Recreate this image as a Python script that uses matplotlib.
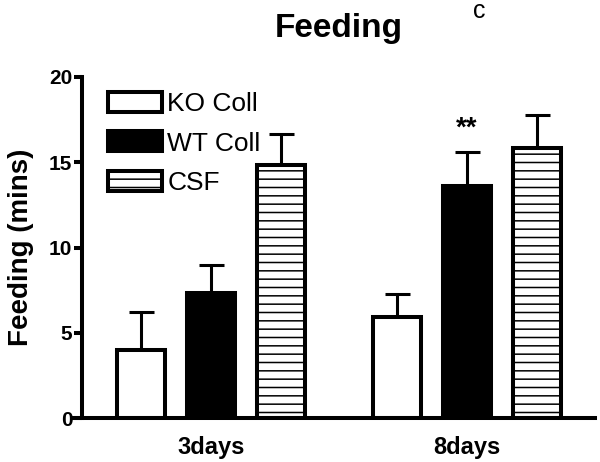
import matplotlib
matplotlib.use("Agg")
import matplotlib.pyplot as plt
import numpy as np

plt.rcParams['font.family'] = ['Liberation Sans', 'DejaVu Sans']
plt.rcParams['hatch.linewidth'] = 1.1

groups = ["3days", "8days"]
series = ["KO Coll", "WT Coll", "CSF"]
means = {
    "KO Coll": [4.0, 5.95],
    "WT Coll": [7.35, 13.6],
    "CSF": [14.85, 15.85],
}
errs = {
    "KO Coll": [2.2, 1.3],
    "WT Coll": [1.6, 2.0],
    "CSF": [1.8, 1.9],
}
yticks = [0, 5, 10, 15, 20]

faces = {"KO Coll": "white", "WT Coll": "black", "CSF": "white"}
hatches = {"KO Coll": None, "WT Coll": None, "CSF": "--"}

fig = plt.figure(figsize=(6.0, 4.62), dpi=100)
ax = fig.add_axes([82/600, 44/462, (595-82)/600, (418-77)/462])

x = np.arange(len(groups))
offset = 70/256
width = 48/256
for i, s in enumerate(series):
    xs = x + (i - 1) * offset
    ax.bar(xs, means[s], width=width, facecolor=faces[s], edgecolor="black",
           linewidth=2.9, hatch=hatches[s], label=s, zorder=2)
    ax.errorbar(xs, means[s], yerr=[np.zeros(len(groups)), errs[s]], fmt="none",
                ecolor="black", elinewidth=2.2, capsize=9, capthick=2.2, zorder=1)

ax.set_xlim(-0.504, 1.5)
ax.set_ylim(0, 20)
ax.set_yticks(yticks)
ax.set_yticklabels([str(t) for t in yticks], fontsize=15, fontweight="bold")
ax.set_xticks(x)
ax.set_xticklabels(groups, fontsize=17, fontweight="bold")
ax.tick_params(axis="x", length=0, pad=13)
ax.tick_params(axis="y", length=6, width=2.9, pad=1)
for sp in ["top", "right"]:
    ax.spines[sp].set_visible(False)
ax.spines["left"].set_linewidth(2.9)
ax.spines["bottom"].set_linewidth(2.9)
ax.spines["bottom"].set_bounds(-0.54, 1.5)

ax.set_ylabel("Feeding (mins)", fontsize=20, fontweight="bold", labelpad=11)

ax.text(1, means["WT Coll"][1] + errs["WT Coll"][1] + 1.4, "**", ha="center",
        va="center", fontsize=20, fontweight="bold")

fig.text(339/600, 1 - 37/462, "Feeding", ha="center", va="baseline",
         fontsize=24, fontweight="bold")
fig.text(479/600, 1 - 18/462, "c", ha="center", va="baseline", fontsize=18)

leg = ax.legend(loc="upper left", bbox_to_anchor=(108/600, 1 - 92/462),
                bbox_transform=fig.transFigure, frameon=False, fontsize=19,
                handlelength=2.05, handleheight=0.8, handletextpad=0.2,
                labelspacing=0.57, borderpad=0, borderaxespad=0)

fig.savefig("out.png", dpi=100)
